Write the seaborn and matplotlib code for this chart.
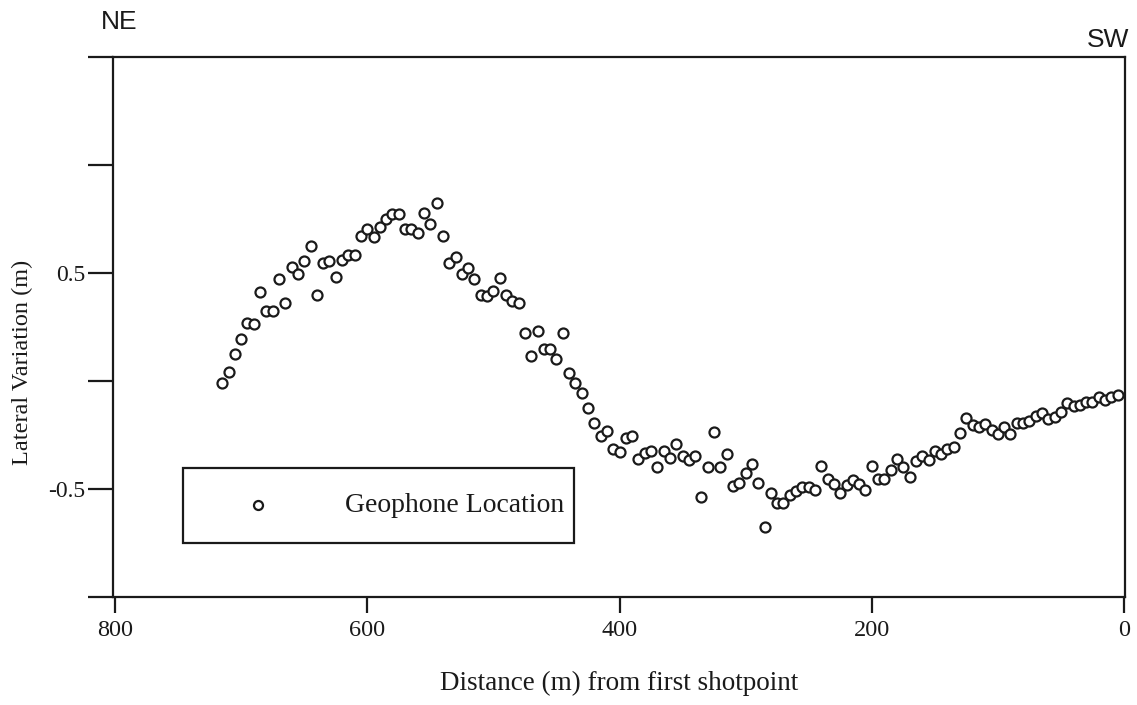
import numpy as np
import pandas as pd
import matplotlib
matplotlib.use("Agg")
import matplotlib.pyplot as plt
import seaborn as sns

# Geophone stations (distance from first shotpoint, m) and lateral variation (m)
distance = [715, 710, 705, 700, 695, 690, 685, 680, 675, 670,
            665, 660, 655, 650, 645, 640, 635, 630, 625, 620,
            615, 610, 605, 600, 595, 590, 585, 580, 575, 570,
            565, 560, 555, 550, 545, 540, 535, 530, 525, 520,
            515, 510, 505, 500, 495, 490, 485, 480, 475, 470,
            465, 460, 455, 450, 445, 440, 435, 430, 425, 420,
            415, 410, 405, 400, 395, 390, 385, 380, 375, 370,
            365, 360, 355, 350, 345, 340, 335, 330, 325, 320,
            315, 310, 305, 300, 295, 290, 285, 280, 275, 270,
            265, 260, 255, 250, 245, 240, 235, 230, 225, 220,
            215, 210, 205, 200, 195, 190, 185, 180, 175, 170,
            165, 160, 155, 150, 145, 140, 135, 130, 125, 120,
            115, 110, 105, 100, 95, 90, 85, 80, 75, 70,
            65, 60, 55, 50, 45, 40, 35, 30, 25, 20,
            15, 10, 5]
lateral = [-0.01, 0.04, 0.125, 0.195, 0.27, 0.265, 0.41, 0.325, 0.325, 0.47,
           0.36, 0.53, 0.495, 0.555, 0.625, 0.40, 0.545, 0.555, 0.48, 0.56,
           0.585, 0.585, 0.67, 0.705, 0.665, 0.715, 0.75, 0.775, 0.775, 0.705,
           0.705, 0.685, 0.78, 0.725, 0.825, 0.67, 0.545, 0.575, 0.495, 0.525,
           0.47, 0.40, 0.395, 0.415, 0.475, 0.40, 0.37, 0.36, 0.22, 0.115,
           0.23, 0.15, 0.15, 0.10, 0.22, 0.035, -0.01, -0.055, -0.125, -0.195,
           -0.255, -0.23, -0.315, -0.33, -0.265, -0.255, -0.36, -0.335, -0.325, -0.40,
           -0.325, -0.355, -0.29, -0.345, -0.365, -0.345, -0.535, -0.40, -0.235, -0.40,
           -0.34, -0.485, -0.47, -0.425, -0.385, -0.47, -0.675, -0.52, -0.565, -0.565,
           -0.53, -0.51, -0.49, -0.49, -0.505, -0.395, -0.455, -0.475, -0.52, -0.48,
           -0.46, -0.475, -0.505, -0.395, -0.455, -0.455, -0.41, -0.36, -0.40, -0.445,
           -0.37, -0.345, -0.365, -0.325, -0.34, -0.315, -0.305, -0.24, -0.17, -0.205,
           -0.215, -0.20, -0.225, -0.245, -0.215, -0.245, -0.195, -0.195, -0.185, -0.16,
           -0.15, -0.175, -0.165, -0.145, -0.10, -0.115, -0.11, -0.095, -0.095, -0.075,
           -0.09, -0.075, -0.065]

x_ticks = [800, 600, 400, 200, 0]
y_ticks = [-1.0, -0.5, 0.0, 0.5, 1.0, 1.5]
y_tick_labels = ["", "-0.5", "", "0.5", "", ""]

df = pd.DataFrame({"Distance": distance, "Lateral": lateral})

sns.set_theme(style="white")
plt.rcParams["font.family"] = ["Liberation Serif", "DejaVu Serif"]

ink = "#1a1a1a"
fig = plt.figure(figsize=(11.37, 7.05), dpi=100)
ax = fig.add_axes([113 / 1137, 1 - 597 / 705, 1012 / 1137, 540 / 705])

sns.scatterplot(data=df, x="Distance", y="Lateral", ax=ax,
                marker="o", s=52, facecolor="white", edgecolor=ink,
                linewidth=1.6, label="Geophone Location", zorder=3)

ax.set_xlim(801.6, -0.8)
ax.set_ylim(-1.0, 1.5)
ax.set_xticks(x_ticks)
ax.set_xticklabels([str(v) for v in x_ticks])
ax.set_yticks(y_ticks)
ax.set_yticklabels(y_tick_labels)

for s in ax.spines.values():
    s.set_color(ink)
    s.set_linewidth(1.6)
    s.set_visible(True)

ax.tick_params(axis="x", direction="out", length=11.5, width=1.6, color=ink,
               pad=5, labelsize=17.5, labelcolor=ink, bottom=True)
ax.tick_params(axis="y", direction="out", length=18, width=1.6, color=ink,
               pad=2, labelsize=17, labelcolor=ink, left=True)
ax.set_xlabel("")
ax.set_ylabel("")

fig.text(619 / 1137, 1 - 683 / 705, "Distance (m) from first shotpoint",
         ha="center", va="center", fontsize=19.5, color=ink)
fig.text(22 / 1137, 1 - 362 / 705, "Lateral Variation (m)", rotation=90,
         ha="center", va="center", fontsize=17.5, color=ink)

fig.text(119 / 1137, 1 - 22 / 705, "NE", ha="center", va="center",
         fontsize=19, color=ink, family=["Liberation Sans", "DejaVu Sans"])
fig.text(1108 / 1137, 1 - 40 / 705, "SW", ha="center", va="center",
         fontsize=19, color=ink, family=["Liberation Sans", "DejaVu Sans"])

leg = ax.legend(loc="center", bbox_to_anchor=(0.0692, 0.1, 0.3863, 0.1389),
                mode="expand", frameon=True, fancybox=False, shadow=False,
                framealpha=1, edgecolor=ink, fontsize=20, borderpad=0.9,
                handlelength=3.6, handletextpad=1.33, borderaxespad=0,
                markerscale=0.9)
leg.get_frame().set_linewidth(1.6)
for t in leg.get_texts():
    t.set_color(ink)

fig.savefig("out.png", dpi=100, facecolor="white")
